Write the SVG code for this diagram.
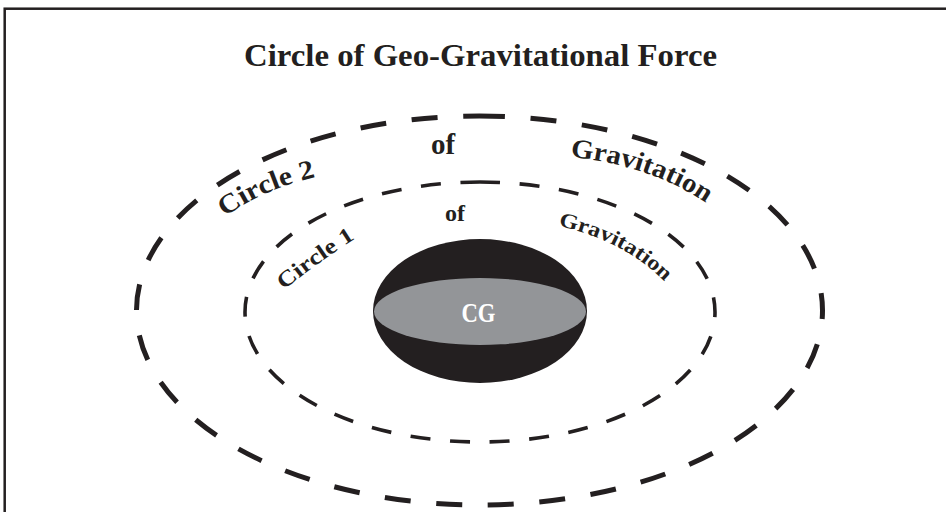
<svg xmlns="http://www.w3.org/2000/svg" width="946" height="512" viewBox="0 0 946 512">
<style>
  .lbl { font-family: "Liberation Serif", "DejaVu Serif", serif; font-weight: bold; fill: #231f20; }
  .ring { fill: none; stroke: #231f20; stroke-linecap: butt; }
</style>
<defs>
  <path id="pC2" d="M 225,217 Q 264,188 324,175"/>
  <path id="pG2" d="M 570,157 Q 650,165 706,203"/>
  <path id="pC1" d="M 284,290 Q 318,262 358,237"/>
  <path id="pG1" d="M 558,226 Q 625,240 668,285"/>
</defs>
<rect width="946" height="512" fill="#ffffff"/>
<g id="frame">
  <rect x="4.7" y="8.7" width="1000" height="1000" fill="none" stroke="#231f20" stroke-width="2.5"/>
</g>
<g id="title">
  <text class="lbl" x="480.5" y="66" text-anchor="middle" font-size="31" textLength="473" lengthAdjust="spacingAndGlyphs">Circle of Geo-Gravitational Force</text>
</g>
<g id="connectors">
  <path id="circle2-ring" class="ring" stroke-width="5" pathLength="1721" stroke-dasharray="26 25.67" stroke-dashoffset="0.5" d="M 479.5,116 A 343,194.5 0 1 1 479.5,505 A 343,194.5 0 1 1 479.5,116"/>
  <path id="circle1-ring" class="ring" stroke-width="3.6" pathLength="1170" stroke-dasharray="20 19.67" d="M 480,182 A 235,130 0 1 1 480,442 A 235,130 0 1 1 480,182"/>
</g>
<g id="circle2-labels">
  <text class="lbl" font-size="27"><textPath href="#pC2" textLength="100" lengthAdjust="spacingAndGlyphs">Circle 2</textPath></text>
  <text class="lbl" x="443" y="154" text-anchor="middle" font-size="29">of</text>
  <text class="lbl" font-size="27"><textPath href="#pG2" textLength="145" lengthAdjust="spacingAndGlyphs">Gravitation</textPath></text>
</g>
<g id="circle1-labels">
  <text class="lbl" font-size="22"><textPath href="#pC1" textLength="88" lengthAdjust="spacingAndGlyphs">Circle 1</textPath></text>
  <text class="lbl" x="455" y="221" text-anchor="middle" font-size="24">of</text>
  <text class="lbl" font-size="21"><textPath href="#pG1" textLength="122" lengthAdjust="spacingAndGlyphs">Gravitation</textPath></text>
</g>
<g id="cg">
  <ellipse cx="480" cy="311" rx="107" ry="72" fill="#231f20"/>
  <ellipse cx="480" cy="311.5" rx="106" ry="33.5" fill="#939598"/>
  <text class="lbl" x="478.5" y="322" text-anchor="middle" font-size="27" style="fill:#ffffff" textLength="34" lengthAdjust="spacingAndGlyphs">CG</text>
</g>
</svg>
